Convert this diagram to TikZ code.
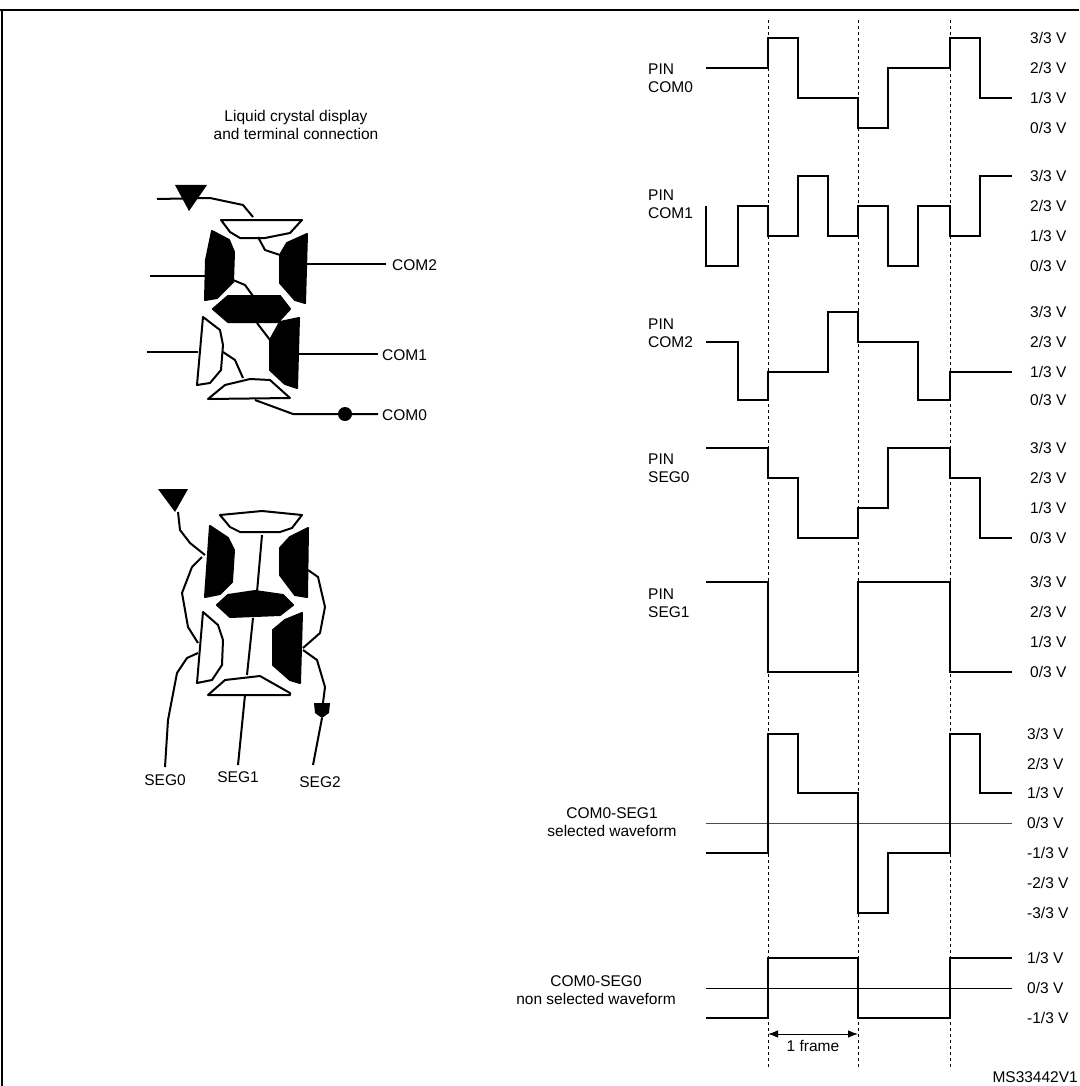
\documentclass[tikz,border=0pt]{standalone}
\usepackage{fontspec}
\setmainfont{Liberation Sans}
\usetikzlibrary{arrows.meta}
\tikzset{
  wave/.style={line width=2.2pt, line join=miter},
  seg/.style={line width=2pt, line join=round},
  on/.style={seg, fill=black},
  off/.style={seg, fill=white},
  wire/.style={line width=2pt},
  lbl/.style={font=\fontsize{15.5}{18}\selectfont, inner sep=0pt},
  volt/.style={lbl, anchor=west}
}
\begin{document}
\begin{tikzpicture}[x=1pt,y=-1pt]
    \useasboundingbox (0,0) rectangle (1079,1086);
    \fill[white] (0,0) rectangle (1079,1086);
    \draw [line width=1.6pt] (0,10) -- (1079,10);
    \draw [line width=1.6pt] (2,10) -- (2,1086);

    % upper digit
    \node [lbl, align=center] (lcdlbl) at (296,125) {Liquid crystal display\\and terminal connection};
    \draw [wire] (157,199) -- (210,198) -- (243,205) -- (253,217);
    \fill (175,185) -- (207,185) -- (189,211) -- cycle;
    \draw [off] (221,220) -- (302,220) -- (290,233) -- (265,238) -- (240,238) -- (230,232) -- cycle;
    \draw [on] (212,231) -- (229,240) -- (234,252) -- (233,282) -- (217,298) -- (205,300) -- (206,260) -- cycle;
    \draw [on] (307,234) -- (305,303) -- (295,300) -- (280,283) -- (280,255) -- (287,243) -- cycle;
    \draw [on] (213,309) -- (228,296) -- (280,296) -- (290,309) -- (278,322) -- (228,322) -- cycle;
    \draw [off] (203,317) -- (220,330) -- (223,345) -- (221,370) -- (210,383) -- (197,385) -- cycle;
    \draw [on] (299,318) -- (297,388) -- (285,384) -- (270,370) -- (270,340) -- (280,322) -- cycle;
    \draw [off] (208,399) -- (225,385) -- (250,379) -- (270,380) -- (290,398) -- cycle;
    \draw [wire] (258,237) -- (265,250) -- (280,255);
    \draw [wire] (233,280) -- (245,285) -- (253,296);
    \draw [wire] (257,323) -- (270,340);
    \draw [wire] (223,352) -- (235,360) -- (243,378);
    \draw [wire] (150,276) -- (205,276);
    \draw [wire] (147,352) -- (198,352);
    \draw [wire] (307,264) -- (386,264);
    \draw [wire] (298,354) -- (378,354);
    \draw [wire] (255,400) -- (293,414) -- (378,414);
    \fill (345,414) circle (7);
    \node [lbl, anchor=west] (com2) at (392,265) {COM2};
    \node [lbl, anchor=west] (com1) at (382,355) {COM1};
    \node [lbl, anchor=west] (com0) at (382,415) {COM0};

    % lower digit
    \fill (158,489) -- (188,489) -- (175,512) -- cycle;
    \draw [off] (220,515) -- (262,511) -- (302,515) -- (292,528) -- (280,532) -- (240,532) -- (230,527) -- cycle;
    \draw [on] (210,526) -- (228,538) -- (234,550) -- (232,582) -- (220,594) -- (205,597) -- cycle;
    \draw [on] (308,528) -- (307,597) -- (295,595) -- (280,575) -- (280,548) -- (290,537) -- cycle;
    \draw [on] (217,605) -- (228,595) -- (255,591) -- (283,595) -- (293,605) -- (280,615) -- (230,617) -- cycle;
    \draw [off] (203,612) -- (218,625) -- (223,640) -- (222,665) -- (212,680) -- (197,683) -- cycle;
    \draw [on] (302,613) -- (300,683) -- (290,680) -- (273,665) -- (273,630) -- (285,620) -- cycle;
    \draw [off] (208,695) -- (225,680) -- (260,676) -- (290,693) -- (290,695) -- cycle;
    \draw [wire] (262,535) -- (257,592);
    \draw [wire] (253,618) -- (247,675);
    \draw [wire] (178,512) -- (180,530) -- (190,543) -- (205,555);
    \draw [wire] (202,557) -- (192,567) -- (182,593) -- (188,627) -- (198,643);
    \draw [wire] (308,570) -- (318,577) -- (325,607) -- (320,633) -- (303,648);
    \draw [wire] (198,653) -- (187,658) -- (177,673) -- (168,720) -- (165,767);
    \draw [wire] (245,695) -- (238,765);
    \draw [wire] (303,650) -- (317,660) -- (325,687) -- (323,703);
    \fill (314,703) -- (330,703) -- (329,713) -- (322,718) -- (315,713) -- cycle;
    \draw [wire] (322,718) -- (313,765);
    \node [lbl] (seg0) at (165,780) {SEG0};
    \node [lbl] (seg1) at (238,777) {SEG1};
    \node [lbl] (seg2) at (320,782) {SEG2};

    % frame markers
    \foreach \x in {768,858,950}
        \draw [dashed, line width=0.8pt] (\x,20) -- (\x,1068);

    % pin waveforms
    \node [lbl, align=left, anchor=west] (pc0) at (648,78) {PIN\\COM0};
    \draw [wave] (706,68) -- (768,68) -- (768,38) -- (798,38) -- (798,98) -- (858,98) -- (858,128) -- (888,128) -- (888,68) -- (950,68) -- (950,38) -- (980,38) -- (980,98) -- (1012,98);
    \node [lbl, align=left, anchor=west] (pc1) at (648,204) {PIN\\COM1};
    \draw [wave] (706,206) -- (706,266) -- (738,266) -- (738,206) -- (768,206) -- (768,236) -- (798,236) -- (798,176) -- (828,176) -- (828,236) -- (858,236) -- (858,206) -- (888,206) -- (888,266) -- (918,266) -- (918,206) -- (950,206) -- (950,236) -- (980,236) -- (980,176) -- (1012,176);
    \node [lbl, align=left, anchor=west] (pc2) at (648,333) {PIN\\COM2};
    \draw [wave] (706,342) -- (738,342) -- (738,400) -- (768,400) -- (768,372) -- (828,372) -- (828,312) -- (858,312) -- (858,342) -- (918,342) -- (918,400) -- (950,400) -- (950,372) -- (1012,372);
    \node [lbl, align=left, anchor=west] (ps0) at (648,468) {PIN\\SEG0};
    \draw [wave] (706,448) -- (768,448) -- (768,478) -- (798,478) -- (798,538) -- (858,538) -- (858,508) -- (888,508) -- (888,448) -- (950,448) -- (950,478) -- (980,478) -- (980,538) -- (1012,538);
    \node [lbl, align=left, anchor=west] (ps1) at (648,603) {PIN\\SEG1};
    \draw [wave] (706,582) -- (768,582) -- (768,672) -- (858,672) -- (858,582) -- (950,582) -- (950,672) -- (1012,672);

    % voltage scales
    \foreach \y/\t in {38/3,68/2,98/1,128/0, 176/3,206/2,236/1,266/0, 312/3,342/2,372/1,400/0, 448/3,478/2,508/1,538/0, 582/3,612/2,642/1,672/0}
        \node [volt] at (1030,\y) {\t/3 V};

    % difference waveforms
    \node [lbl, align=center] (sel) at (612,822) {COM0-SEG1\\selected waveform};
    \draw [line width=0.8pt, black!70] (706,823) -- (1012,823);
    \draw [wave] (706,853) -- (768,853) -- (768,734) -- (798,734) -- (798,793) -- (858,793) -- (858,913) -- (888,913) -- (888,853) -- (950,853) -- (950,734) -- (980,734) -- (980,793) -- (1012,793);
    \foreach \y/\t in {734/3,764/2,793/1,823/0,853/-1,883/-2,913/-3}
        \node [volt] at (1027,\y) {\t/3 V};
    \node [lbl, align=center] (nsel) at (596,990) {COM0-SEG0\\non selected waveform};
    \draw [line width=0.8pt] (706,988) -- (1012,988);
    \draw [wave] (706,1018) -- (768,1018) -- (768,958) -- (858,958) -- (858,1018) -- (950,1018) -- (950,958) -- (1012,958);
    \foreach \y/\t in {958/1,988/0,1018/-1}
        \node [volt] at (1027,\y) {\t/3 V};

    \draw [{Latex[length=10pt]}-{Latex[length=10pt]}, line width=1pt] (768,1034) -- (858,1034);
    \node [lbl] (frm) at (813,1046) {1 frame};
    \node [lbl, anchor=east] (msid) at (1078,1077) {MS33442V1};
\end{tikzpicture}
\end{document}
